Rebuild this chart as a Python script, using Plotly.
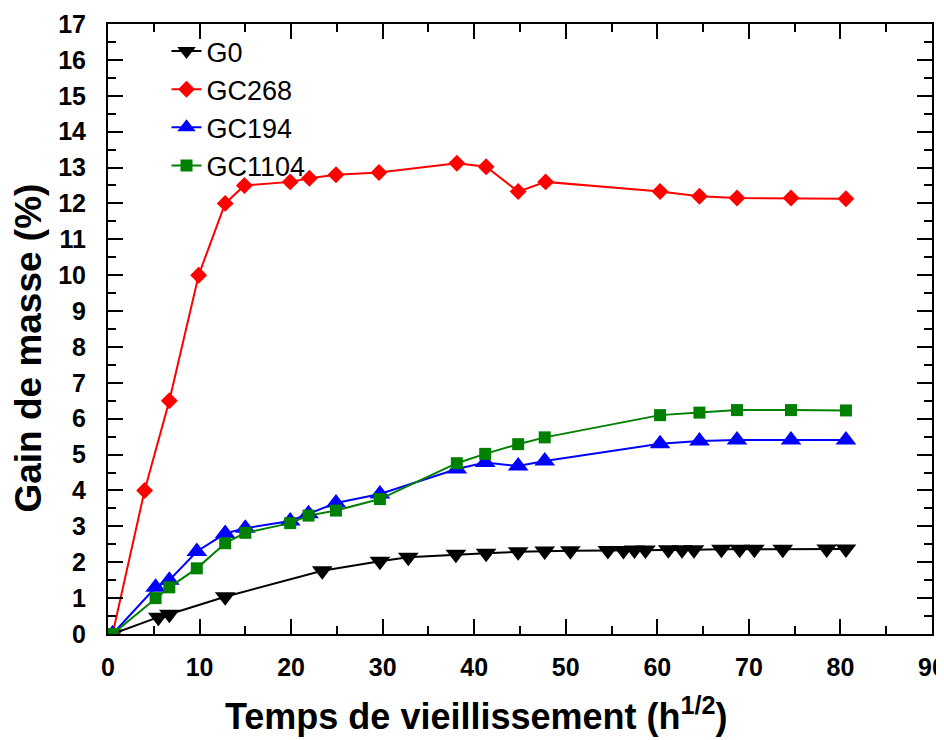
import plotly.graph_objects as go

# ---- data ----
x_g0 = [0.5, 5.5, 6.7, 12.8, 23.4, 29.7, 32.8, 38.0, 41.3, 44.8, 47.7, 50.5, 54.6,
        56.3, 57.5, 58.7, 61.2, 62.7, 64.0, 67.0, 69.0, 70.6, 73.7, 78.5, 80.6]
y_g0 = [0, 0.47, 0.55, 1.04, 1.76, 2.03, 2.14, 2.22, 2.25, 2.29, 2.31, 2.32, 2.33,
        2.33, 2.34, 2.34, 2.35, 2.35, 2.35, 2.36, 2.36, 2.36, 2.36, 2.37, 2.37]

x_gc268 = [0.5, 4.0, 6.7, 9.9, 12.8, 14.9, 19.9, 22.0, 24.9, 29.6, 38.1, 41.3,
           44.8, 47.8, 60.3, 64.6, 68.7, 74.6, 80.6]
y_gc268 = [0, 4.0, 6.5, 10.0, 12.0, 12.5, 12.6, 12.7, 12.8, 12.86, 13.12, 13.02,
           12.33, 12.6, 12.33, 12.2, 12.15, 12.15, 12.13]

x_gc = [0.5, 5.2, 6.7, 9.7, 12.8, 15.0, 19.9, 21.9, 24.9, 29.7, 38.1, 41.2,
        44.8, 47.7, 60.3, 64.6, 68.7, 74.6, 80.6]
y_gc194 = [0, 1.3, 1.5, 2.3, 2.8, 2.95, 3.15, 3.35, 3.65, 3.9, 4.6, 4.78,
           4.68, 4.82, 5.3, 5.38, 5.41, 5.41, 5.41]
y_gc1104 = [0, 1.0, 1.3, 1.83, 2.53, 2.82, 3.09, 3.3, 3.44, 3.76, 4.76, 5.02,
            5.29, 5.48, 6.1, 6.17, 6.24, 6.24, 6.23]

x_ticks = [0, 10, 20, 30, 40, 50, 60, 70, 80, 90]
y_ticks = list(range(0, 18))

fig = go.Figure()
series = [
    ("G0", x_g0, y_g0, "black", "triangle-down", 18),
    ("GC268", x_gc268, y_gc268, "#FF0000", "diamond", 13),
    ("GC194", x_gc, y_gc194, "#0000FF", "triangle-up", 18),
    ("GC1104", x_gc, y_gc1104, "#008000", "square", 12),
]
for name, xs, ys, col, sym, sz in series:
    fig.add_trace(go.Scatter(
        x=xs, y=ys, name=name, mode="lines+markers",
        line=dict(color=col, width=2),
        marker=dict(symbol=sym, size=sz, color=col, line=dict(width=0)),
    ))

font_family = "Liberation Sans, Arial, sans-serif"
axis_common = dict(
    showline=True, linecolor="black", linewidth=2, mirror="allticks",
    ticks="inside", ticklen=15, tickwidth=2, tickcolor="black",
    showgrid=False, zeroline=False, automargin=False,
    ticklabeloverflow="allow",
    tickfont=dict(family=font_family, size=25, color="black", weight="bold"),
)
fig.update_xaxes(range=[0, 90], tickvals=x_ticks, ticklabelstandoff=10,
                 minor=dict(ticks="inside", ticklen=8, tickwidth=2, dtick=5,
                            tickcolor="black", showgrid=False),
                 **axis_common)
fig.update_yaxes(range=[0, 17], tickvals=y_ticks, ticklabelstandoff=15,
                 minor=dict(ticks="inside", ticklen=8, tickwidth=2, dtick=0.5,
                            tickcolor="black", showgrid=False),
                 **axis_common)

fig.add_annotation(text="Temps de vieillissement (h<sup>1/2</sup>)",
                   xref="paper", yref="paper", x=0.447, y=-0.172,
                   xanchor="center", yanchor="bottom", showarrow=False,
                   font=dict(family=font_family, size=36, color="black", weight="bold"))
fig.add_annotation(text="Gain de masse (%)", textangle=-90,
                   xref="paper", yref="paper", x=-0.097, y=0.468,
                   xanchor="center", yanchor="middle", showarrow=False,
                   font=dict(family=font_family, size=37, color="black", weight="bold"))

# the page adds an 8px body margin, so the figure is 8px smaller and margins shifted
fig.update_layout(
    width=936, height=732,
    margin=dict(l=100, r=12, t=16, b=106),
    paper_bgcolor="white", plot_bgcolor="white",
    showlegend=True,
    legend=dict(x=0.071, y=0.995, xanchor="left", yanchor="top",
                bgcolor="rgba(0,0,0,0)", borderwidth=0,
                font=dict(family=font_family, size=27, color="black"),
                tracegroupgap=0),
)
fig.write_html("out.html")
